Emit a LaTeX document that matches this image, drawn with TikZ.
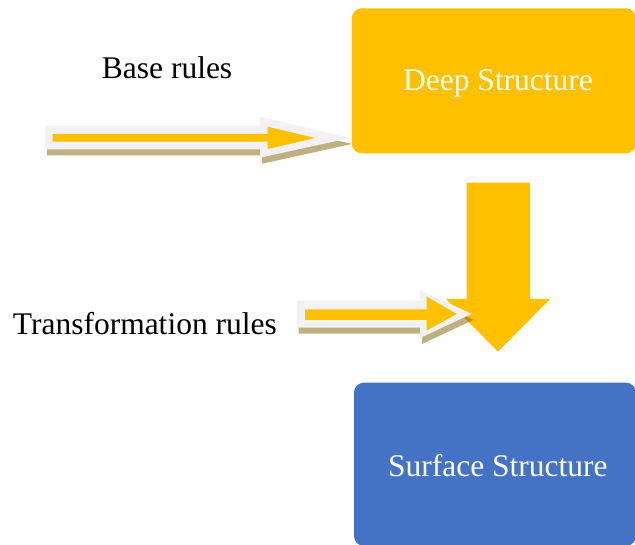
\documentclass[tikz,border=0pt]{standalone}
\usepackage{fontspec}
\setmainfont{Liberation Serif}
\definecolor{gold}{HTML}{FFC000}
\definecolor{steel}{HTML}{4472C4}
\definecolor{rim}{HTML}{F2F2F2}
\definecolor{shade}{RGB}{128,100,0}
\tikzset{
  stagebox/.style={fill=#1, rounded corners=10pt, inner sep=0pt},
  stagetext/.style={text=white, inner sep=0pt, anchor=base, font=\fontsize{31.5}{36}\selectfont},
  ruletext/.style={text=black, inner sep=0pt, anchor=base west, font=\fontsize{31.5}{36}\selectfont},
  arrowshadow/.style={fill=shade, fill opacity=0.5},
  arrowrim/.style={fill=rim},
  arrowcore/.style={fill=gold},
}
\begin{document}
\begin{tikzpicture}[x=1pt, y=-1pt]
  \useasboundingbox (0,0) rectangle (635,545);
  \clip (0,0) rectangle (635,545);

  % the two stage boxes
  \node[stagebox=gold, minimum width=284.3pt, minimum height=145pt] (deepbox) at (493.9,80.8) {};
  \node[stagebox=steel, minimum width=282pt, minimum height=163.3pt] (surfbox) at (495,464.3) {};

  % block arrow from deep to surface structure
  \coordinate (dtop) at (498,182.7);
  \coordinate (dtip) at (498,351.7);
  \fill[gold] (466.7,182.7) -- (530,182.7) -- (530,299) -- (550,299)
     -- (dtip) -- (446,299) -- (466.7,299) -- cycle;

  % arrow for the base rules
  \begin{scope}[shift={(2,6)}]
    \fill[arrowshadow] (45,125.7) -- (260,125.7) -- (260,116.7) -- (350,138)
       -- (260,157.7) -- (260,149.3) -- (45,149.3) -- cycle;
  \end{scope}
  \fill[arrowrim] (45,125.7) -- (260,125.7) -- (260,116.7) -- (350,138)
     -- (260,157.7) -- (260,149.3) -- (45,149.3) -- cycle;
  \fill[arrowcore] (52.7,134) -- (267.7,134) -- (267.7,126.7) -- (315,138)
     -- (267.7,149) -- (267.7,141.7) -- (52.7,141.7) -- cycle;

  % arrow for the transformation rules
  \begin{scope}[shift={(2,6)}]
    \fill[arrowshadow] (296.7,300.7) -- (420,300.7) -- (420,290) -- (471.7,313.8)
       -- (420,338) -- (420,327.7) -- (296.7,327.7) -- cycle;
  \end{scope}
  \fill[arrowrim] (296.7,300.7) -- (420,300.7) -- (420,290) -- (471.7,313.8)
     -- (420,338) -- (420,327.7) -- (296.7,327.7) -- cycle;
  \fill[arrowcore] (305,309.3) -- (426.7,309.3) -- (426.7,296.7) -- (456.7,314)
     -- (426.7,330.5) -- (426.7,320) -- (305,320) -- cycle;

  % labels
  \node[stagetext] (deep) at (498,90.7) {Deep Structure};
  \node[stagetext] (surface) at (497.8,476) {Surface Structure};
  \node[ruletext] (base) at (101.7,78.3) {Base rules};
  \node[ruletext] (transf) at (12.7,335) {Transformation rules};
\end{tikzpicture}
\end{document}
